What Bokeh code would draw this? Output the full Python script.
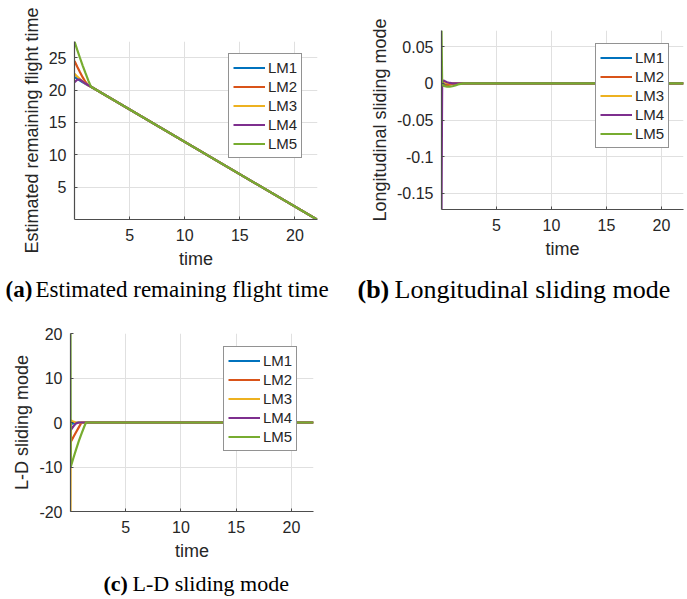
from bokeh.plotting import figure
from bokeh.models import Range1d, FixedTicker, Legend, LegendItem
from bokeh.layouts import column, row
from bokeh.embed import file_html
from bokeh.resources import INLINE
from bokeh.core.properties import value

# ---- shared series styling ----
series_names = ["LM1", "LM2", "LM3", "LM4", "LM5"]
series_colors = ["#0072BD", "#D95319", "#EDB120", "#7E2F8E", "#77AC30"]

# ---- (a) estimated remaining flight time ----
time_a = [0.0, 0.25, 0.5, 0.75, 1.0, 1.25, 1.5, 22.0]
tgo_lm1 = [22.0, 21.75, 21.45, 21.2, 20.95, 20.75, 20.5, 0.0]
tgo_lm2 = [24.5, 23.6, 22.75, 21.95, 21.25, 20.75, 20.5, 0.0]
tgo_lm3 = [22.5, 22.1, 21.7, 21.35, 21.0, 20.75, 20.5, 0.0]
tgo_lm4 = [21.2, 21.6, 21.6, 21.3, 21.0, 20.75, 20.5, 0.0]
tgo_lm5 = [27.5, 26.2, 24.95, 23.75, 22.6, 21.5, 20.5, 0.0]
yticks_a = [5, 10, 15, 20, 25]
ylabels_a = ["5", "10", "15", "20", "25"]

# ---- (b) longitudinal sliding mode ----
time_b = [0.0, 0.06, 0.15, 0.3, 0.5, 0.75, 1.0, 1.25, 1.5, 2.0, 22.0]
slon_lm1 = [0.0, -0.001, -0.0015, -0.0015, -0.001, -0.0006, -0.0003, -0.0001, 0.0, 0.0, 0.0]
slon_lm2 = [0.0, -0.002, -0.003, -0.003, -0.0025, -0.0018, -0.001, -0.0005, 0.0, 0.0, 0.0]
slon_lm3 = [0.0, 0.001, 0.0012, 0.001, 0.0006, 0.0003, 0.0001, 0.0, 0.0, 0.0, 0.0]
slon_lm4 = [-0.172, 0.0, 0.004, 0.003, 0.0015, 0.0005, 0.0, 0.0, 0.0, 0.0, 0.0]
slon_lm5 = [0.072, -0.001, -0.003, -0.004, -0.0045, -0.0045, -0.004, -0.003, -0.0015, 0.0, 0.0]
yticks_b = [-0.15, -0.1, -0.05, 0, 0.05]
ylabels_b = ["-0.15", "-0.1", "-0.05", "0", "0.05"]

# ---- (c) lateral-directional sliding mode ----
time_c = [0.0, 0.02, 0.25, 0.5, 0.75, 1.0, 1.25, 1.4, 22.0]
sld_lm1 = [0.0, -0.3, -0.2, -0.1, 0.0, 0.0, 0.0, 0.0, 0.0]
sld_lm2 = [-4.6, -4.4, -3.3, -2.2, -1.1, 0.0, 0.0, 0.0, 0.0]
sld_lm3 = [-20.0, 0.5, 0.2, 0.0, 0.0, 0.0, 0.0, 0.0, 0.0]
sld_lm4 = [-1.8, -1.7, -0.9, -0.2, 0.0, 0.0, 0.0, 0.0, 0.0]
sld_lm5 = [20.0, -10.0, -8.1, -6.1, -4.2, -2.5, -0.9, 0.0, 0.0]
yticks_c = [-20, -10, 0, 10, 20]
ylabels_c = ["-20", "-10", "0", "10", "20"]

xticks = [5, 10, 15, 20]
xlabels = ["5", "10", "15", "20"]

AX_COLOR = "#4d4d4d"
TXT_COLOR = "#262626"
SANS = "Liberation Sans"
SERIF = "Liberation Serif"


def make_panel(width, height, left, right, top, bottom, x_end, y_range,
               yticks, ylabels, ylabel, t, ys, legend_xy):
    p = figure(width=width, height=height,
               x_range=Range1d(0, x_end), y_range=Range1d(*y_range),
               output_backend="svg", toolbar_location=None,
               min_border_left=left, min_border_right=right,
               min_border_top=top, min_border_bottom=bottom)
    p.frame_align = False
    p.outline_line_color = None
    p.background_fill_color = "white"

    p.xaxis.ticker = FixedTicker(ticks=xticks)
    p.xaxis.major_label_overrides = dict(zip(xticks, xlabels))
    p.yaxis.ticker = FixedTicker(ticks=yticks)
    p.yaxis.major_label_overrides = dict(zip(yticks, ylabels))

    p.axis.axis_line_color = AX_COLOR
    p.axis.axis_line_width = 1.2
    p.axis.major_tick_line_color = AX_COLOR
    p.axis.major_tick_in = 3
    p.axis.major_tick_out = 0
    p.axis.minor_tick_line_color = None
    p.axis.major_label_text_font = SANS
    p.axis.major_label_text_font_size = "16px"
    p.axis.major_label_text_color = TXT_COLOR
    p.axis.axis_label_text_font = SANS
    p.axis.axis_label_text_font_size = "18px"
    p.axis.axis_label_text_font_style = "normal"
    p.axis.axis_label_text_color = TXT_COLOR
    p.xaxis.major_label_standoff = 9
    p.xaxis.axis_label_standoff = 5
    p.yaxis.major_label_standoff = 8
    p.yaxis.axis_label_standoff = 4
    p.xaxis.axis_label = "time"
    p.yaxis.axis_label = ylabel

    p.grid.grid_line_color = "#e0e0e0"
    p.grid.grid_line_width = 1

    items = []
    for name, color, y in zip(series_names, series_colors, ys):
        r = p.line(t, y, line_color=color, line_width=2.2)
        items.append(LegendItem(label=name, renderers=[r]))

    legend = Legend(items=items, location=legend_xy,
                    border_line_color=TXT_COLOR, border_line_width=1,
                    background_fill_color="white", background_fill_alpha=1,
                    label_text_font=SANS, label_text_font_size="15px",
                    label_text_color=TXT_COLOR,
                    glyph_width=32, glyph_height=19, label_height=19,
                    label_standoff=3, padding=4, spacing=0, margin=0)
    p.add_layout(legend)
    return p


def make_caption(width, height, tag, text, x_tag, x_text, y_mid, size):
    c = figure(width=width, height=height,
               x_range=Range1d(0, width), y_range=Range1d(0, height),
               output_backend="svg", toolbar_location=None,
               x_axis_location=None, y_axis_location=None, min_border=0)
    c.frame_align = False
    c.outline_line_color = None
    c.grid.visible = False
    c.text(x=[x_tag], y=[y_mid], text=[tag], text_font=value(SERIF),
           text_font_style="bold", text_font_size=size,
           text_baseline="middle", text_align="left", text_color="black")
    c.text(x=[x_text], y=[y_mid], text=[text], text_font=value(SERIF),
           text_font_size=size, text_baseline="middle",
           text_align="left", text_color="black")
    return c


pa = make_panel(343, 275, 74, 26, 41, 56, 22.05, (0, 27.5),
                yticks_a, ylabels_a, "Estimated remaining flight time",
                time_a, [tgo_lm1, tgo_lm2, tgo_lm3, tgo_lm4, tgo_lm5], (154, 61))
pb = make_panel(344, 275, 98, 4, 30, 66, 22.0, (-0.172, 0.072),
                yticks_b, ylabels_b, "Longitudinal sliding mode",
                time_b, [slon_lm1, slon_lm2, slon_lm3, slon_lm4, slon_lm5], (154, 61))
pc = make_panel(343, 260, 70, 30, 28, 54, 22.0, (-20, 20),
                yticks_c, ylabels_c, "L-D sliding mode",
                time_c, [sld_lm1, sld_lm2, sld_lm3, sld_lm4, sld_lm5], (153, 60))

cap_a = make_caption(343, 30, "(a)", "Estimated remaining flight time", 5, 35, 16, "23px")
cap_b = make_caption(344, 30, "(b)", "Longitudinal sliding mode", 14, 51, 16, "26px")
cap_c = make_caption(687, 34, "(c)", "L-D sliding mode", 103, 132, 16, "22px")

layout = column(row(pa, pb), row(cap_a, cap_b), pc, cap_c)

open("out.html", "w").write(file_html(layout, INLINE))
